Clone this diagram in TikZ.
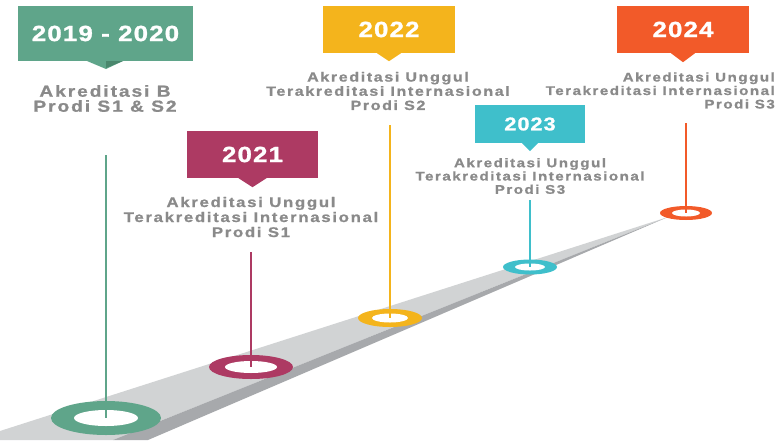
\documentclass[tikz,border=0pt]{standalone}
\usepackage{fontspec}
\setmainfont{Liberation Sans}
\newfontfamily\yearfont{Liberation Sans}[FakeStretch=1.18,LetterSpace=5,FakeBold=1.2]
\newfontfamily\notefont{Liberation Sans}[FakeStretch=1.2,LetterSpace=12,FakeBold=1]
\definecolor{cgreen}{HTML}{5FA58A}
\definecolor{cgreendark}{HTML}{4A876D}
\definecolor{ccrimson}{HTML}{AD3A63}
\definecolor{cyellow}{HTML}{F4B41C}
\definecolor{ccyan}{HTML}{3FBFCB}
\definecolor{corange}{HTML}{F25A29}
\definecolor{roadlight}{HTML}{D1D3D4}
\definecolor{roaddark}{HTML}{A7A9AC}
\definecolor{notegray}{HTML}{8A8A8A}
\tikzset{
  yearbox/.style={rectangle, inner sep=0pt, text=white, font=\yearfont\bfseries\fontsize{22}{24}\selectfont},
  note/.style 2 args={align=center, inner sep=0pt, text=notegray, font=\notefont\bfseries\fontsize{#1}{#2}\selectfont},
  stem/.style={line width=1.4pt}
}
\begin{document}
\begin{tikzpicture}[x=1pt, y=-1pt]
\useasboundingbox (0,0) rectangle (782,440);
% road
\coordinate (tip) at (668,217);
\fill[roadlight] (0,431) -- (tip) -- (113,440) -- (0,440) -- cycle;
\fill[roaddark] (113,440) -- (tip) -- (148,440) -- cycle;
% rings
\coordinate (r1) at (106,418);
\coordinate (r2) at (251,367);
\coordinate (r3) at (390,318);
\coordinate (r4) at (530,267);
\coordinate (r5) at (686,213);
\fill[cgreen] (r1) ellipse[x radius=55, y radius=17];
\fill[white] (r1) ellipse[x radius=32, y radius=8];
\fill[ccrimson] (r2) ellipse[x radius=42, y radius=12];
\fill[white] (r2) ellipse[x radius=26, y radius=6];
\fill[cyellow] (r3) ellipse[x radius=32, y radius=9];
\fill[white] (r3) ellipse[x radius=18, y radius=4.5];
\fill[ccyan] (r4) ellipse[x radius=27, y radius=7.5];
\fill[white] (r4) ellipse[x radius=15, y radius=3.5];
\fill[corange] (r5) ellipse[x radius=26, y radius=7];
\fill[white] (r5) ellipse[x radius=14, y radius=3.5];
% stems
\coordinate (s1) at (106,155);
\coordinate (s2) at (251,252);
\coordinate (s3) at (390,125);
\coordinate (s4) at (530,200);
\coordinate (s5) at (686,123);
\draw[stem, cgreen] (s1) -- (r1);
\draw[stem, ccrimson] (s2) -- (r2);
\draw[stem, cyellow] (s3) -- (r3);
\draw[stem, ccyan] (s4) -- (r4);
\draw[stem, corange] (s5) -- (r5);
% year boxes
\node[yearbox, fill=cgreen, minimum width=175pt, minimum height=55pt] (y1) at (105.5,33.5) {2019 - 2020};
\fill[cgreen] (87,61) -- (123,61) -- (106,69) -- cycle;
\fill[cgreendark] (106,61) -- (123,61) -- (106,68) -- cycle;
\node[yearbox, fill=ccrimson, minimum width=131pt, minimum height=47pt] (y2) at (252.5,154.5) {2021};
\fill[ccrimson] ([xshift=-14pt]y2.south) -- ([xshift=14pt]y2.south) -- ([yshift=-9pt]y2.south) -- cycle;
\node[yearbox, fill=cyellow, minimum width=132pt, minimum height=47pt] (y3) at (389,29.5) {2022};
\fill[cyellow] ([xshift=-12pt]y3.south) -- ([xshift=12pt]y3.south) -- ([yshift=-8pt]y3.south) -- cycle;
\node[yearbox, fill=ccyan, minimum width=110pt, minimum height=38pt, font=\yearfont\bfseries\fontsize{18.5}{21}\selectfont] (y4) at (530,124) {2023};
\fill[ccyan] ([xshift=-8pt]y4.south) -- ([xshift=8pt]y4.south) -- ([yshift=-8pt]y4.south) -- cycle;
\node[yearbox, fill=corange, minimum width=132pt, minimum height=47pt] (y5) at (683,29.5) {2024};
\fill[corange] ([xshift=-12pt]y5.south) -- ([xshift=12pt]y5.south) -- ([yshift=-9pt]y5.south) -- cycle;
% notes
\node[note={16}{15}] (t1) at (105,98.5) {Akreditasi B\\Prodi S1 \& S2};
\node[note={14}{15}] (t2) at (251,217) {Akreditasi Unggul\\Terakreditasi Internasional\\Prodi S1};
\node[note={13.4}{14.2}] (t3) at (388,91) {Akreditasi Unggul\\Terakreditasi Internasional\\Prodi S2};
\node[note={12.6}{13.3}] (t4) at (530,176) {Akreditasi Unggul\\Terakreditasi Internasional\\Prodi S3};
\node[note={12.6}{13.5}, anchor=east, align=right] (t5) at (775,90.5) {Akreditasi Unggul\\Terakreditasi Internasional\\Prodi S3};
\end{tikzpicture}
\end{document}
